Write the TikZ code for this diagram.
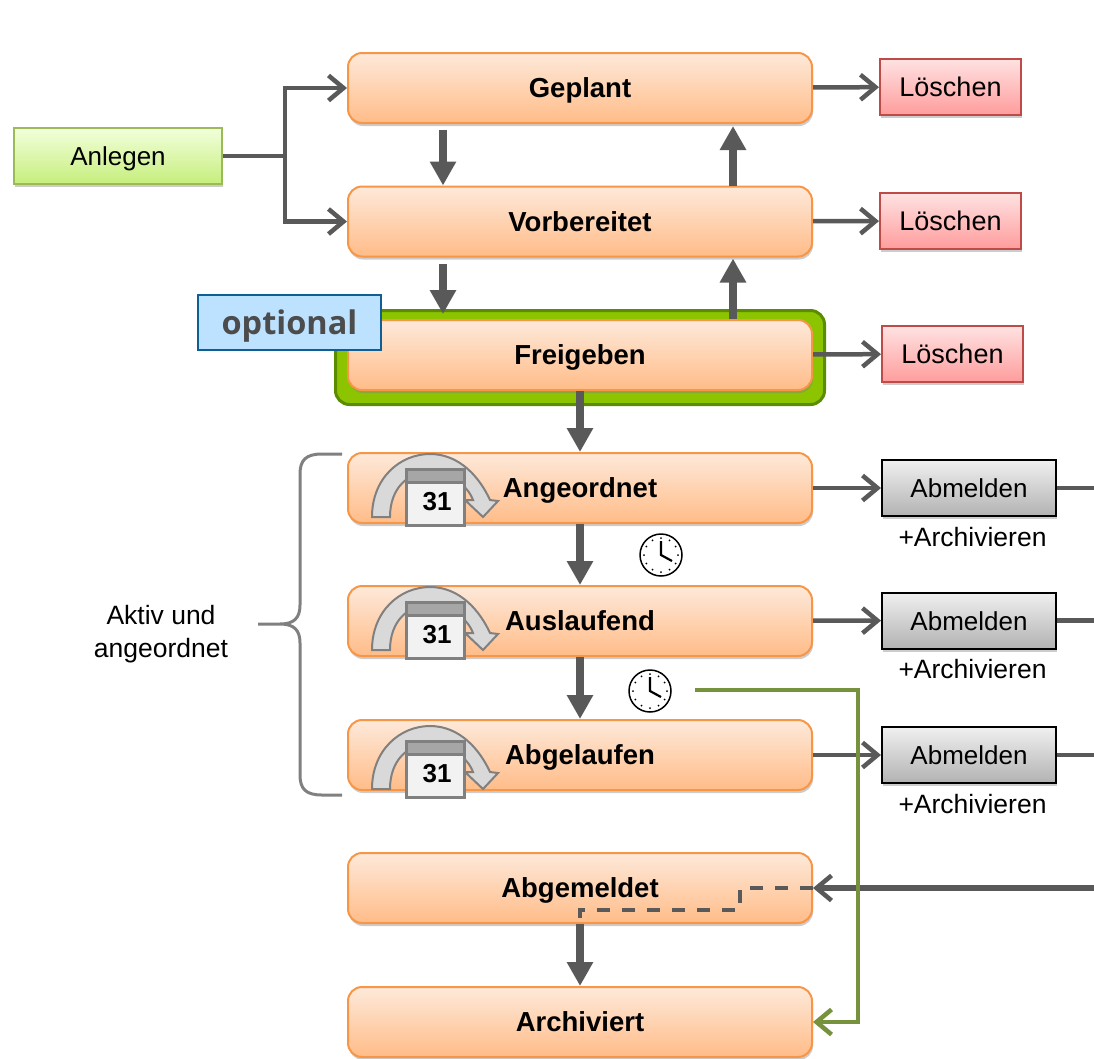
\documentclass[tikz,border=0pt]{standalone}
\usepackage{fontspec}
\setmainfont{Liberation Sans}
\newfontfamily\labelfont{Open Sans}
\usetikzlibrary{shadows,arrows.meta}
\definecolor{arrowgray}{HTML}{595959}
\definecolor{iconline}{HTML}{808080}
\definecolor{timeoutgreen}{HTML}{76923C}
\definecolor{stateline}{HTML}{F79646}
\definecolor{statetop}{HTML}{FEE9DA}
\definecolor{statebottom}{HTML}{FFBC88}
\definecolor{startline}{HTML}{9BBB59}
\definecolor{starttop}{HTML}{F2FFDC}
\definecolor{startbottom}{HTML}{C6EE7C}
\definecolor{deleteline}{HTML}{BE4B48}
\definecolor{deletetop}{HTML}{FFE2E2}
\definecolor{deletebottom}{HTML}{FF9C9C}
\definecolor{logouttop}{HTML}{F0F0F0}
\definecolor{logoutbottom}{HTML}{B2B2B2}
\definecolor{frameline}{HTML}{5B8C00}
\definecolor{framefill}{HTML}{8CC400}
\definecolor{optionline}{HTML}{0F5F94}
\definecolor{optionfill}{HTML}{BDE2FF}
\tikzset{
  basebox/.style = {rectangle, inner sep=0pt, text height=19pt, text depth=0pt, drop shadow={shadow xshift=1pt, shadow yshift=-3pt, opacity=0.4}},
  statebox/.style = {basebox, draw=stateline, line width=2pt, rounded corners=14pt, top color=statetop, bottom color=statebottom, minimum width=464pt, minimum height=70pt, font=\fontsize{27.5}{30}\selectfont\bfseries},
  startbox/.style = {basebox, draw=startline, line width=2pt, top color=starttop, bottom color=startbottom, minimum width=208pt, minimum height=56pt, font=\fontsize{26}{30}\selectfont},
  deletebox/.style = {basebox, draw=deleteline, line width=2pt, top color=deletetop, bottom color=deletebottom, minimum width=141pt, minimum height=56pt, font=\fontsize{27}{30}\selectfont},
  logoutbox/.style = {basebox, draw=black, line width=2pt, top color=logouttop, bottom color=logoutbottom, minimum width=174pt, minimum height=56pt, font=\fontsize{26}{30}\selectfont},
  thickarrow/.style = {draw=arrowgray, line width=8pt, -{Triangle[length=24pt,width=25pt]}},
  thinarrow/.style = {draw=arrowgray, line width=4.5pt, -{Straight Barb[length=15pt,width=25pt,line width=4.5pt]}},
  calendar/.pic = {
    \draw[iconline, line width=2pt, fill=gray!30] (-58,29) .. controls (-58,-10) and (-30,-34) .. (0,-34) .. controls (30,-34) and (50,-10) .. (60,12) -- (68,13) -- (53,29) -- (35,12) -- (43,12) .. controls (38,-2) and (20,-16) .. (0,-16) .. controls (-22,-16) and (-40,0) .. (-40,29) -- cycle;
    \draw[iconline, line width=3pt, fill=gray!10] (-24,-19) rectangle (34,37);
    \draw[iconline, line width=3pt, fill=gray!70] (-24,-19) rectangle (34,-6);
    \node[font=\fontsize{26}{30}\selectfont\bfseries] (day) at (7,14) {31};
  },
  clockface/.pic = {
    \draw[black, line width=1.5pt, fill=white] (0,0) circle (21);
    \foreach \a in {0,30,...,330}
    \fill[black] (\a:17) circle (1);
    \draw[black, line width=2.2pt] (0,-14) -- (0,0) -- (11,6);
  }
}
\begin{document}
\begin{tikzpicture}[x=1pt, y=-1pt]
\useasboundingbox (0,0) rectangle (1094,1058);
% optional frame
\node[rectangle, draw=frameline, line width=3pt, rounded corners=14pt, fill=framefill, minimum width=489pt, minimum height=94pt] (frame) at (580,357.5) {};
\foreach \n/\y/\t in {geplant/88/Geplant, vorbereitet/221.5/Vorbereitet, freigeben/355/Freigeben, angeordnet/488/Angeordnet, auslaufend/621/Auslaufend, abgelaufen/755/Abgelaufen, abgemeldet/888/Abgemeldet, archiviert/1022/Archiviert}
\node[statebox] (\n) at (580,\y) {\t};
\node[startbox] (anlegen) at (118,156) {Anlegen};
\node[rectangle, draw=optionline, line width=2pt, fill=optionfill, minimum width=183pt, minimum height=55pt, text height=24pt, text depth=0pt, inner sep=0pt, text=black!70, font=\fontsize{32.5}{36}\labelfont\bfseries] (optional) at (289.5,322.5) {optional};
\node[deletebox] (loeschenA) at (950.5,87) {Löschen};
\node[deletebox] (loeschenB) at (950.5,221) {Löschen};
\node[deletebox] (loeschenC) at (952.5,354) {Löschen};
\foreach \n/\y in {A/488,B/620.5,C/755} {
\node[logoutbox] (abmelden\n) at (969,\y) {Abmelden};
\coordinate (edge\n) at (1094,\y);
\draw[arrowgray, line width=4.5pt] (abmelden\n.east) -- (edge\n);
\node[font=\fontsize{26.5}{30}\selectfont] (archivieren\n) at (972.5,\y+49) {+Archivieren};
}
% left arrows
\coordinate (split) at (285,156);
\draw[arrowgray, line width=4.5pt] (anlegen) -- (split);
\draw[thinarrow] (split) |- (geplant);
\draw[thinarrow] (split) |- (vorbereitet);
% to the delete and logout boxes
\draw[thinarrow] (geplant) -- (loeschenA);
\draw[thinarrow] (vorbereitet) -- (loeschenB);
\draw[thinarrow] (freigeben) -- (loeschenC);
\draw[thinarrow] (angeordnet) -- (abmeldenA);
\draw[thinarrow] (auslaufend) -- (abmeldenB);
\draw[thinarrow] (abgelaufen) -- (abmeldenC);
% state changes
\draw[thickarrow, shorten <=6pt] ([xshift=-137pt]geplant.south) -- ([xshift=-137pt]vorbereitet.north);
\draw[thickarrow, shorten >=2pt] ([xshift=153pt]vorbereitet.north) -- ([xshift=153pt]geplant.south);
\draw[thickarrow, shorten <=6pt, shorten >=5pt] ([xshift=-137pt]vorbereitet.south) -- ([xshift=-137pt]freigeben.north);
\draw[thickarrow, shorten >=1pt] ([xshift=153pt]freigeben.north) -- ([xshift=153pt]vorbereitet.south);
\draw[thickarrow] (freigeben) -- (angeordnet);
\draw[thickarrow] (angeordnet) -- (auslaufend);
\draw[thickarrow] (auslaufend) -- (abgelaufen);
\draw[thickarrow] (abgemeldet) -- (archiviert);
% calendars and clocks
\pic (calA) at (430,488) {calendar};
\pic (calB) at (430,621) {calendar};
\pic (calC) at (430,760) {calendar};
\pic (clockA) at (661,555) {clockface};
\pic (clockB) at (650,691) {clockface};
% return lines
\coordinate (edgeD) at (1094,888);
\draw[thinarrow, line width=5.5pt] (edgeD) -- (abgemeldet.east);
\coordinate (stepA) at (740,888);
\coordinate (stepB) at (740,910);
\coordinate (stepC) at (580,910);
\draw[arrowgray, line width=3.5pt, dash pattern=on 13pt off 12pt] (abgemeldet.east) -- (stepA) -- (stepB) -- (stepC) -- (abgemeldet.south);
\coordinate (timeout) at (695,690);
\coordinate (corner) at (858,1022);
\draw[timeoutgreen, line width=4.5pt, -{Straight Barb[length=15pt,width=25pt,line width=4.5pt]}] (timeout) -| (corner) -- (archiviert.east);
% brace
\draw[iconline, line width=3pt] (342,454) -- (322,454) .. controls (306,454) and (300,460) .. (300,474) -- (300,605) .. controls (300,618) and (294,624) .. (280,624) -- (258,624) -- (280,624) .. controls (294,624) and (300,630) .. (300,643) -- (300,775) .. controls (300,789) and (306,795) .. (322,795) -- (342,795);
\node[align=center, font=\fontsize{26.5}{33}\selectfont] (aktiv) at (161,634) {Aktiv und\\angeordnet};
\end{tikzpicture}
\end{document}
